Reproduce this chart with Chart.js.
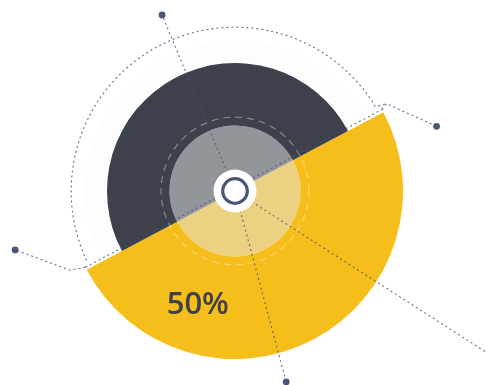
<!DOCTYPE html>
<html>
<head>
<meta charset="utf-8">
<script src="https://cdn.jsdelivr.net/npm/chart.js@4.4.1/dist/chart.umd.min.js"></script>
<style>
  html, body { margin: 0; padding: 0; background: #ffffff; }
  #wrap { width: 486px; height: 385px; position: relative; }
</style>
</head>
<body>
<div id="wrap"><canvas id="pie"></canvas></div>
<script>
// ===== DATA =====
const labels      = ["Yellow", "Dark"];
const shares      = [50, 50];
const labelText   = "50%";

// ===== COLOURS =====
const YELLOW      = "#F5BE1A";
const YELLOW_SOFT = "#EDD182";
const DARK        = "#3D414B";
const DARK_SOFT   = "#929599";
const NAVY        = "#4A5578";

// compass angle (deg, clockwise from top) -> canvas point
function polar(cx, cy, r, deg) {
  const a = (deg - 90) * Math.PI / 180;
  return [cx + r * Math.cos(a), cy + r * Math.sin(a)];
}

function dotted(ctx, pts) {
  ctx.beginPath();
  ctx.moveTo(pts[0][0], pts[0][1]);
  for (let i = 1; i < pts.length; i++) ctx.lineTo(pts[i][0], pts[i][1]);
  ctx.stroke();
}

function dot(ctx, p) {
  ctx.beginPath();
  ctx.arc(p[0], p[1], 3.4, 0, Math.PI * 2);
  ctx.fillStyle = NAVY;
  ctx.fill();
}

// decoration: rings, callout lines, centre knob, label
const decorPlugin = {
  id: "decor",
  afterDatasetsDraw(chart) {
    const ctx = chart.ctx;
    const outer = chart.getDatasetMeta(0).data[0];
    const mid = chart.getDatasetMeta(1).data[0];
    const cx = outer.x, cy = outer.y;
    const R = outer.outerRadius;

    ctx.save();

    // hide seam between the two yellow rings
    ctx.beginPath();
    ctx.arc(cx, cy, mid.outerRadius, (62 - 90) * Math.PI / 180, (242 - 90) * Math.PI / 180);
    ctx.strokeStyle = YELLOW;
    ctx.lineWidth = 2;
    ctx.stroke();

    // faint halo round dark half
    ctx.beginPath();
    ctx.arc(cx, cy, R * 0.83, (243 - 90) * Math.PI / 180, (421 - 90) * Math.PI / 180);
    ctx.strokeStyle = "rgba(61,65,75,0.012)";
    ctx.lineWidth = 22;
    ctx.stroke();

    // dashed inner circle
    ctx.setLineDash([7, 5]);
    ctx.lineWidth = 1.1;
    ctx.strokeStyle = "rgba(255,255,255,0.4)";
    ctx.beginPath();
    ctx.arc(cx, cy, R * 0.44, 0, Math.PI * 2);
    ctx.stroke();

    // dotted callouts
    ctx.setLineDash([2, 3]);
    ctx.lineWidth = 1.1;
    ctx.strokeStyle = "rgba(74,85,120,0.85)";

    // outer dotted arc round the dark half
    ctx.beginPath();
    ctx.arc(cx, cy, R * 0.975, (245 - 90) * Math.PI / 180, (419 - 90) * Math.PI / 180);
    ctx.lineTo(...polar(cx, cy, R * 1.04, 60));
    ctx.stroke();

    // dividing line
    dotted(ctx, [polar(cx, cy, R, 243), polar(cx, cy, R, 61)]);

    // right callout
    const rDot = polar(cx, cy, R * 1.26, 72.2);
    dotted(ctx, [polar(cx, cy, R, 61), polar(cx, cy, R * 1.04, 60), rDot]);
    // left callout
    const lDot = polar(cx, cy, R * 1.355, 255);
    dotted(ctx, [polar(cx, cy, R, 243), polar(cx, cy, R * 1.09, 244.4), lDot]);
    // top
    const tDot = polar(cx, cy, R * 1.134, 337.5);
    dotted(ctx, [[cx, cy], tDot]);
    // bottom
    const bDot = polar(cx, cy, R * 1.177, 165);
    dotted(ctx, [[cx, cy], bDot]);
    // lower right, runs off canvas
    dotted(ctx, [[cx, cy], polar(cx, cy, R * 1.9, 122.7)]);

    ctx.setLineDash([]);
    [rDot, lDot, tDot, bDot].forEach(p => dot(ctx, p));

    // centre knob
    ctx.beginPath();
    ctx.arc(cx, cy, 21.5, 0, Math.PI * 2);
    ctx.fillStyle = "#ffffff";
    ctx.fill();
    ctx.beginPath();
    ctx.arc(cx, cy, 12.3, 0, Math.PI * 2);
    ctx.strokeStyle = NAVY;
    ctx.lineWidth = 3.2;
    ctx.stroke();

    // label
    const lp = polar(cx, cy, R * 0.717, 198);
    ctx.fillStyle = DARK;
    ctx.font = "600 31px 'Open Sans'";
    ctx.textAlign = "center";
    ctx.textBaseline = "middle";
    ctx.fillText(labelText, lp[0], lp[1]);

    ctx.restore();
  }
};

const ctx = document.getElementById("pie").getContext("2d");

new Chart(ctx, {
  type: "doughnut",
  data: {
    labels: labels,
    datasets: [
      {
        data: shares,
        backgroundColor: [YELLOW, "rgba(0,0,0,0)"],
        borderWidth: 0,
        weight: 40
      },
      {
        data: shares,
        backgroundColor: [YELLOW, DARK],
        borderWidth: 0,
        weight: 62.5
      },
      {
        data: shares,
        backgroundColor: [YELLOW_SOFT, DARK_SOFT],
        borderWidth: 0,
        weight: 44.5
      }
    ]
  },
  options: {
    responsive: true,
    maintainAspectRatio: false,
    animation: false,
    rotation: 62,
    cutout: 21,
    events: [],
    layout: {
      padding: { left: 0, right: 16, top: 23, bottom: 26 }
    },
    plugins: {
      legend: { display: false },
      tooltip: { enabled: false }
    }
  },
  plugins: [decorPlugin]
});
</script>
</body>
</html>
